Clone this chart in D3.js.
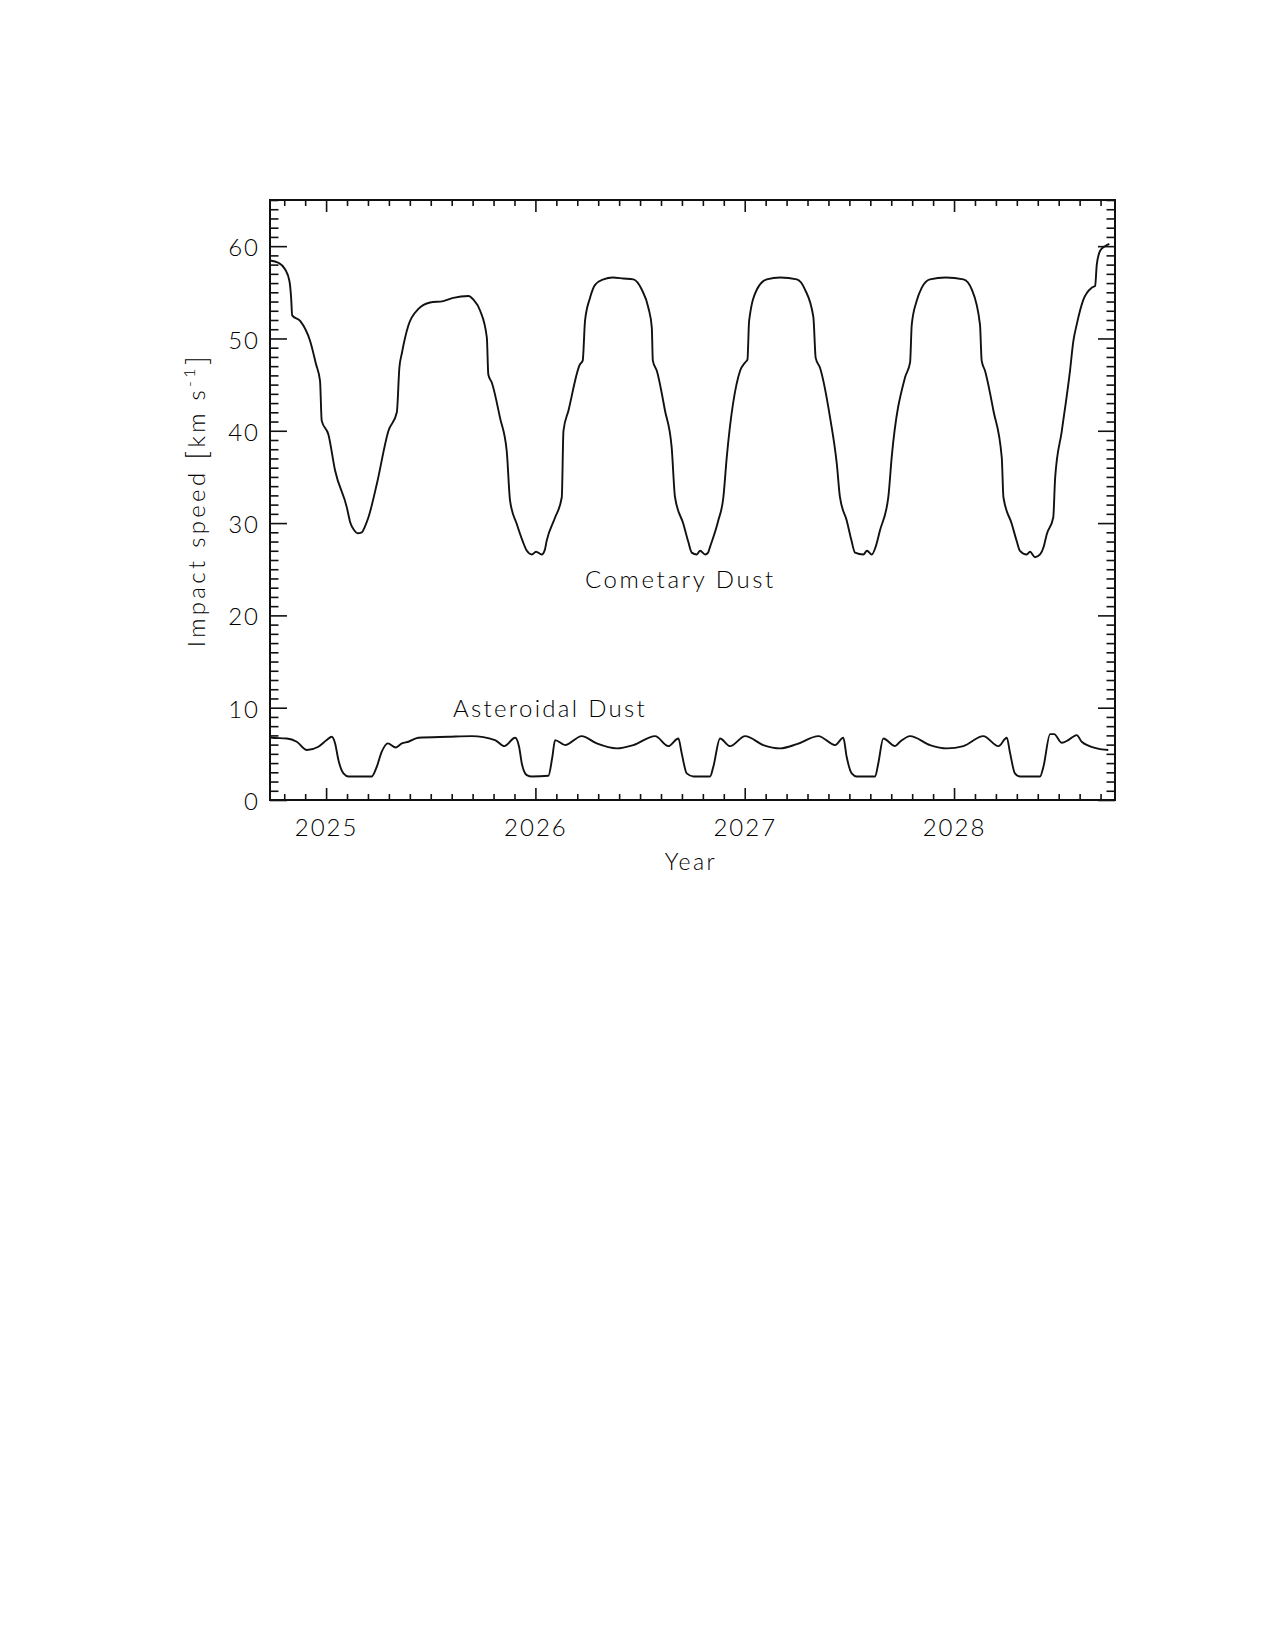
<!DOCTYPE html>
<html>
<head>
<meta charset="utf-8">
<script src="https://cdn.jsdelivr.net/npm/d3@7"></script>
<style>
  body { margin: 0; background: #fff; }
  text { font-family: Lato, "DejaVu Sans", sans-serif; font-weight: 300; fill: #000; }
</style>
</head>
<body>
<div id="root"></div>
<script>
// values (decimal year, km/s)
const cometYears = [2024.733, 2024.772, 2024.804, 2024.825, 2024.833, 2024.838, 2024.876, 2024.924, 2024.952, 2024.971,
  2024.979, 2025.011, 2025.043, 2025.099, 2025.115, 2025.135, 2025.150, 2025.171, 2025.185, 2025.202, 2025.242, 2025.298,
  2025.338, 2025.350, 2025.362, 2025.393, 2025.441, 2025.497, 2025.560, 2025.608, 2025.680, 2025.704,
  2025.736, 2025.768, 2025.775, 2025.792, 2025.831, 2025.863, 2025.879, 2025.911, 2025.940, 2025.959, 2025.983,
  2026.003, 2026.030, 2026.045, 2026.054, 2026.094, 2026.126, 2026.134, 2026.158, 2026.213, 2026.226, 2026.237,
  2026.261, 2026.285, 2026.325, 2026.370, 2026.420, 2026.468, 2026.508, 2026.540, 2026.556, 2026.561,
  2026.580, 2026.619, 2026.651, 2026.667, 2026.707, 2026.730, 2026.747, 2026.771, 2026.787, 2026.811, 2026.825, 2026.834,
  2026.874, 2026.898, 2026.914, 2026.978, 2027.002, 2027.013, 2027.021, 2027.058, 2027.105, 2027.170,
  2027.249, 2027.288, 2027.328, 2027.339, 2027.360, 2027.408, 2027.440, 2027.455, 2027.487, 2027.510, 2027.527,
  2027.567, 2027.584, 2027.607, 2027.625, 2027.646, 2027.686, 2027.702, 2027.766, 2027.790, 2027.798, 2027.822,
  2027.846, 2027.885, 2027.960, 2028.045, 2028.085, 2028.124, 2028.132, 2028.148, 2028.188, 2028.228,
  2028.236, 2028.276, 2028.300, 2028.315, 2028.347, 2028.363, 2028.387, 2028.411, 2028.428, 2028.443, 2028.474, 2028.483,
  2028.515, 2028.554, 2028.570, 2028.586, 2028.618, 2028.658, 2028.674, 2028.682, 2028.698, 2028.721,
  2028.742]
const cometSpeeds = [58.45, 58.2, 57.5, 56.2, 54.4, 52.5, 51.9, 49.7, 47.2, 45.4,
  41.1, 39.6, 35.7, 31.7, 30.1, 29.2, 28.9, 29.0, 29.6, 30.6, 34.2, 40.0,
  42.0, 46.8, 48.4, 51.4, 53.2, 53.9, 54.05, 54.4, 54.6, 54.2,
  53.0, 50.1, 46.1, 45.2, 41.4, 37.8, 32.4, 29.9, 28.0, 27.0, 26.6,
  26.9, 26.6, 27.1, 28.1, 30.6, 32.8, 40.0, 42.2, 47.2, 47.6, 51.9,
  54.4, 55.8, 56.4, 56.6, 56.5, 56.4, 55.3, 53.3, 51.2, 47.6,
  46.5, 42.2, 38.2, 32.8, 29.9, 28.0, 26.8, 26.6, 27.0, 26.6, 26.8, 27.4,
  30.3, 32.8, 37.1, 46.5, 47.4, 47.7, 51.9, 55.3, 56.4, 56.6,
  56.4, 55.3, 52.3, 47.9, 46.8, 41.4, 36.4, 32.8, 30.3, 28.1, 26.8,
  26.6, 27.0, 26.6, 27.4, 29.2, 32.8, 37.1, 45.8, 47.4, 51.5, 54.1,
  55.5, 56.4, 56.6, 56.4, 55.3, 51.5, 47.6, 46.5, 42.2, 37.1,
  32.8, 29.9, 28.0, 27.0, 26.6, 26.9, 26.3, 26.6, 27.4, 28.8, 30.6, 34.9,
  40.0, 46.5, 49.7, 51.5, 54.2, 55.5, 55.7, 58.0, 59.5, 60.0,
  60.25]

const asterYears = [2024.733, 2024.741, 2024.812, 2024.860, 2024.908, 2024.963, 2025.003, 2025.027, 2025.043, 2025.059,
  2025.083, 2025.107, 2025.218, 2025.242, 2025.266, 2025.295, 2025.333, 2025.362, 2025.393, 2025.441,
  2025.584, 2025.696, 2025.807, 2025.852, 2025.903, 2025.922, 2025.935, 2025.959, 2025.983, 2026.062,
  2026.081, 2026.094, 2026.142, 2026.221, 2026.293, 2026.389, 2026.468, 2026.572, 2026.635, 2026.683,
  2026.699, 2026.723, 2026.755, 2026.834, 2026.850, 2026.882, 2026.930, 2027.002, 2027.089, 2027.169,
  2027.249, 2027.352, 2027.432, 2027.471, 2027.487, 2027.511, 2027.535, 2027.623, 2027.638, 2027.662,
  2027.718, 2027.742, 2027.790, 2027.885, 2027.965, 2028.045, 2028.140, 2028.212, 2028.252, 2028.268,
  2028.291, 2028.315, 2028.411, 2028.427, 2028.459, 2028.478, 2028.515, 2028.546, 2028.586, 2028.610,
  2028.682, 2028.737]
const asterSpeeds = [6.85, 6.74, 6.67, 6.31, 5.41, 5.77, 6.49, 6.85, 6.13, 4.32,
  2.88, 2.55, 2.55, 3.6, 5.23, 6.13, 5.69, 6.13, 6.31, 6.74,
  6.85, 6.92, 6.49, 5.84, 6.74, 5.77, 3.96, 2.7, 2.55, 2.62,
  4.68, 6.49, 5.95, 6.92, 6.13, 5.59, 5.95, 6.92, 5.84, 6.67,
  5.05, 2.88, 2.55, 2.55, 3.6, 6.67, 5.84, 6.92, 5.95, 5.59,
  6.05, 6.92, 5.95, 6.74, 4.68, 2.88, 2.55, 2.55, 3.96, 6.67,
  5.84, 6.31, 6.92, 5.95, 5.59, 5.84, 6.92, 5.84, 6.74, 5.05,
  2.88, 2.55, 2.55, 3.6, 7.14, 7.14, 6.2, 6.49, 7.03, 6.31,
  5.59, 5.41]

const yearTicks = [2025, 2026, 2027, 2028]
const speedTicks = [0, 10, 20, 30, 40, 50, 60]
const seriesLabels = ['Cometary Dust', 'Asteroidal Dust']

const graph = {
  width: 1275,
  height: 1650,
  left: 270, right: 1115, top: 200, bottom: 800
}

const svg = d3.select('#root')
  .append('svg')
  .attr('width', graph.width)
  .attr('height', graph.height)

const scaleX = d3.scaleLinear()
  .domain([2024.732, 2028.769])
  .range([graph.left, graph.right])

const scaleY = d3.scaleLinear()
  .domain([0, 65])
  .range([graph.bottom, graph.top])

const minorX = d3.range(2024.8, 2028.75, 0.1).filter(d => Math.abs(d - Math.round(d)) > 0.01)
const minorY = d3.range(0, 66, 1).filter(d => d % 10 !== 0)

function styleAxis(g) {
  g.select('.domain').remove()
  g.selectAll('line').attr('stroke', '#111').attr('stroke-width', 1.6)
}

// bottom axis, ticks point inward
svg.append('g')
  .attr('transform', `translate(0, ${graph.bottom})`)
  .call(d3.axisBottom(scaleX).tickValues(yearTicks).tickFormat(d3.format('d')).tickSizeInner(-12).tickSizeOuter(0).tickPadding(19))
  .call(styleAxis)
  .call(g => g.selectAll('text').attr('font-size', 24).attr('letter-spacing', 2).attr('fill', '#000'))

svg.append('g')
  .attr('transform', `translate(0, ${graph.bottom})`)
  .call(d3.axisBottom(scaleX).tickValues(minorX).tickFormat('').tickSizeInner(-6).tickSizeOuter(0))
  .call(styleAxis)

// top axis
svg.append('g')
  .attr('transform', `translate(0, ${graph.top})`)
  .call(d3.axisTop(scaleX).tickValues(yearTicks).tickFormat('').tickSizeInner(-12).tickSizeOuter(0))
  .call(styleAxis)

svg.append('g')
  .attr('transform', `translate(0, ${graph.top})`)
  .call(d3.axisTop(scaleX).tickValues(minorX).tickFormat('').tickSizeInner(-6).tickSizeOuter(0))
  .call(styleAxis)

// left axis
svg.append('g')
  .attr('transform', `translate(${graph.left}, 0)`)
  .call(d3.axisLeft(scaleY).tickValues(speedTicks).tickFormat(d3.format('d')).tickSizeInner(-17).tickSizeOuter(0).tickPadding(10))
  .call(styleAxis)
  .call(g => g.selectAll('text').attr('font-size', 24).attr('letter-spacing', 2).attr('dy', '0.4em').attr('fill', '#000'))

svg.append('g')
  .attr('transform', `translate(${graph.left}, 0)`)
  .call(d3.axisLeft(scaleY).tickValues(minorY).tickFormat('').tickSizeInner(-8.5).tickSizeOuter(0))
  .call(styleAxis)

// right axis
svg.append('g')
  .attr('transform', `translate(${graph.right}, 0)`)
  .call(d3.axisRight(scaleY).tickValues(speedTicks).tickFormat('').tickSizeInner(-17).tickSizeOuter(0))
  .call(styleAxis)

svg.append('g')
  .attr('transform', `translate(${graph.right}, 0)`)
  .call(d3.axisRight(scaleY).tickValues(minorY).tickFormat('').tickSizeInner(-8.5).tickSizeOuter(0))
  .call(styleAxis)

// frame
svg.append('rect')
  .attr('x', graph.left)
  .attr('y', graph.top)
  .attr('width', graph.right - graph.left)
  .attr('height', graph.bottom - graph.top)
  .attr('fill', 'none')
  .attr('stroke', '#111')
  .attr('stroke-width', 2)

// curves
const comet = cometYears.map((d, i) => [d, cometSpeeds[i]])
const aster = asterYears.map((d, i) => [d, asterSpeeds[i]])

const line = d3.line().curve(d3.curveMonotoneX).x(d => scaleX(d[0])).y(d => scaleY(d[1]))

svg.append('path')
  .datum(comet)
  .attr('fill', 'none')
  .attr('stroke', '#111')
  .attr('stroke-width', 1.9)
  .attr('stroke-linejoin', 'round')
  .attr('d', line)

svg.append('path')
  .datum(aster)
  .attr('fill', 'none')
  .attr('stroke', '#111')
  .attr('stroke-width', 1.9)
  .attr('stroke-linejoin', 'round')
  .attr('d', line)

// series labels
svg.append('text')
  .attr('x', 585).attr('y', 588)
  .attr('font-size', 24).attr('letter-spacing', 2.6)
  .text(seriesLabels[0])

svg.append('text')
  .attr('x', 453).attr('y', 717)
  .attr('font-size', 24).attr('letter-spacing', 2.3)
  .text(seriesLabels[1])

// axis titles
svg.append('text')
  .attr('x', 691).attr('y', 870)
  .attr('text-anchor', 'middle')
  .attr('font-size', 23).attr('letter-spacing', 2.5)
  .text('Year')

const yTitle = svg.append('text')
  .attr('transform', `translate(205, ${(graph.top + graph.bottom) / 2}) rotate(-90)`)
  .attr('text-anchor', 'middle')
  .attr('font-size', 24).attr('letter-spacing', 3.3)
yTitle.append('tspan').text('Impact speed ')
yTitle.append('tspan').attr('font-size', 30).attr('dy', 2).text('[')
yTitle.append('tspan').attr('dy', -2).text('km s')
yTitle.append('tspan').attr('font-size', 16).attr('dy', -10).text('-1')
yTitle.append('tspan').attr('font-size', 30).attr('dy', 12).text(']')
</script>
</body>
</html>
